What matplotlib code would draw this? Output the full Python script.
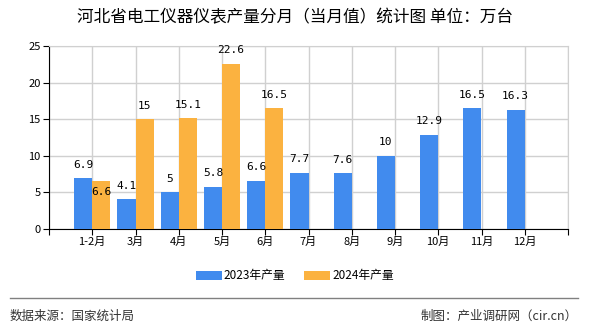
import matplotlib
matplotlib.use('Agg')
import matplotlib.pyplot as plt
import numpy as np

plt.rcParams['font.family'] = ['Noto Sans CJK SC', 'DejaVu Sans']

# 数据
months = ['1-2月', '3月', '4月', '5月', '6月', '7月', '8月', '9月', '10月', '11月', '12月']
prod_2023 = [6.9, 4.1, 5, 5.8, 6.6, 7.7, 7.6, 10, 12.9, 16.5, 16.3]
prod_2024 = [6.6, 15, 15.1, 22.6, 16.5]
yticks = [0, 5, 10, 15, 20, 25]

blue = '#418BEE'
orange = '#FBB240'

fig = plt.figure(figsize=(5.9, 3.3), dpi=100)
ax = fig.add_axes([49 / 590, 1 - 229 / 330, 519 / 590, 183 / 330])

x = np.arange(1, len(months) + 1)
w = 0.42
b1 = ax.bar(x - w / 2, prod_2023, w, color=blue, label='2023年产量', zorder=3)
x2 = x[:len(prod_2024)]
b2 = ax.bar(x2 + w / 2, prod_2024, w, color=orange, label='2024年产量', zorder=3)

lab_font = dict(family='DejaVu Sans Mono', fontsize=8, ha='center', va='bottom')
for xi, v in zip(x, prod_2023):
    ax.annotate(f'{v:g}', (xi - w / 2, v), xytext=(0, 6), textcoords='offset points', **lab_font)
for i, (xi, v) in enumerate(zip(x2, prod_2024)):
    off = -12 if i == 0 else 6  # 1-2月的标签压在柱子上
    ax.annotate(f'{v:g}', (xi + w / 2, v), xytext=(0, off), textcoords='offset points', **lab_font)

ax.set_xlim(0, 12)
ax.set_ylim(0, 25)
ax.set_xticks(np.arange(0, 13))
ax.set_xticklabels([''] + months + [''], fontsize=8)
ax.set_yticks(yticks)
ax.set_yticklabels([str(t) for t in yticks], fontsize=8)
ax.tick_params(axis='x', length=4, color='black', pad=2)
ax.tick_params(axis='y', length=4, color='black', pad=2)
ax.grid(True, color='#D0D0D0', lw=1, zorder=0)
ax.set_axisbelow(True)
for s in ['top', 'right']:
    ax.spines[s].set_color('#D0D0D0')
for s in ['left', 'bottom']:
    ax.spines[s].set_color('black')

fig.text(0.5, 1 - 18 / 330, '河北省电工仪器仪表产量分月（当月值）统计图 单位：万台',
         ha='center', va='center', fontsize=12)

fig.legend(handles=[b1, b2], loc='center', bbox_to_anchor=(0.5, 1 - 276 / 330),
           ncol=2, frameon=False, fontsize=8.5, handlelength=2.2, handleheight=0.9,
           columnspacing=1.6, handletextpad=0.2)

fig.add_artist(plt.Line2D([10 / 590, 578 / 590], [1 - 298 / 330] * 2, color='#808080', lw=1))
fig.text(10 / 590, 1 - 316 / 330, '数据来源：国家统计局', ha='left', va='center', fontsize=9, color='#333333')
fig.text(578 / 590, 1 - 316 / 330, '制图：产业调研网（cir.cn）', ha='right', va='center', fontsize=9, color='#333333')

fig.savefig('out.png', dpi=100)
